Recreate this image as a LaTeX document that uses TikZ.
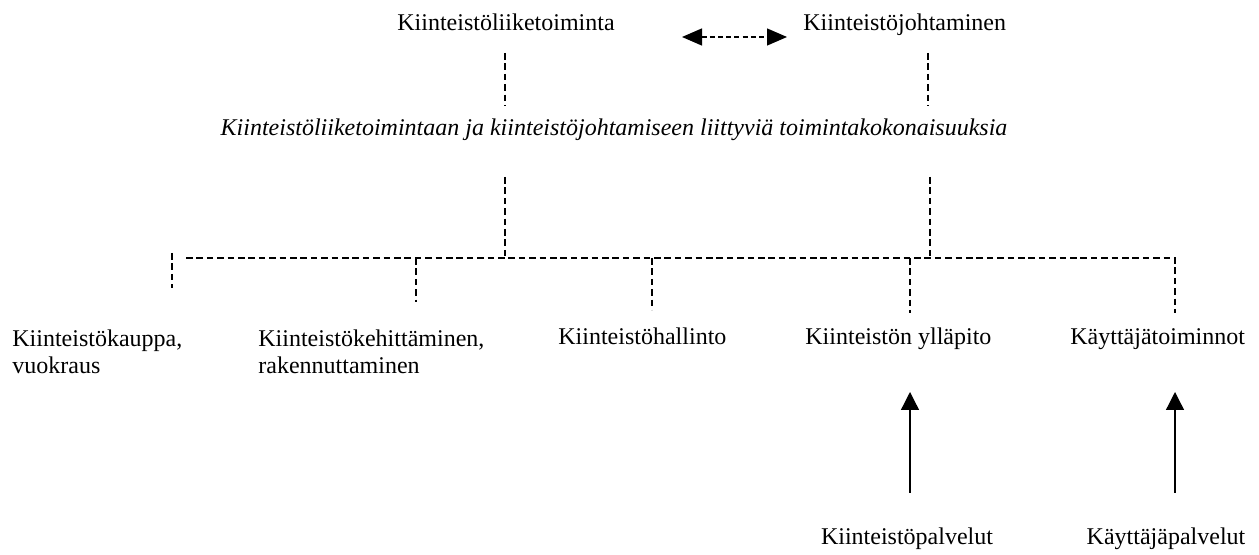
\documentclass[tikz,border=0pt]{standalone}
\usepackage{fontspec}
\setmainfont{Liberation Serif}
\usetikzlibrary{arrows.meta}
\begin{document}
\begin{tikzpicture}[x=0.5pt,y=-0.5pt,
  lbl/.style={inner sep=0pt, font=\fontsize{12}{13.5}\selectfont},
  dline/.style={line width=0.65pt, dash pattern=on 3.3pt off 1.9pt},
  biarrow/.style={line width=0.65pt, dash pattern=on 2.5pt off 1.6pt,
     {Triangle[length=10pt,width=8.5pt]}-{Triangle[length=10pt,width=8.5pt]}},
  uparrow/.style={line width=0.65pt, -{Triangle[length=9pt,width=9pt]}}]
\useasboundingbox (0,0) rectangle (1259,555);
\fill[white] (0,0) rectangle (1259,555);
% labels
\node[lbl, anchor=base] (liike) at (506,31) {Kiinteistöliiketoiminta};
\node[lbl, anchor=base west] (johto) at (803,31) {Kiinteistöjohtaminen};
\node[lbl, anchor=base, font=\fontsize{12}{13.5}\selectfont\itshape] (koko) at (614,136)
  {Kiinteistöliiketoimintaan ja kiinteistöjohtamiseen liittyviä toimintakokonaisuuksia};
\node[lbl, anchor=north west, align=left] (kauppa) at (12,329) {Kiinteistökauppa,\\vuokraus};
\node[lbl, anchor=north west, align=left] (kehit) at (258,329) {Kiinteistökehittäminen,\\rakennuttaminen};
\node[lbl, anchor=base west] (hallinto) at (558,345) {Kiinteistöhallinto};
\node[lbl, anchor=base west] (yllapito) at (805,345) {Kiinteistön ylläpito};
\node[lbl, anchor=base west] (kayttaja) at (1070,345) {Käyttäjätoiminnot};
\node[lbl, anchor=base] (kpalv) at (907,545) {Kiinteistöpalvelut};
\node[lbl, anchor=base] (kaypalv) at (1166,545) {Käyttäjäpalvelut};
% coordinates
\coordinate (aL) at (682,37);
\coordinate (aR) at (787,37);
\coordinate (d1t) at (505,53);  \coordinate (d1b) at (505,106);
\coordinate (d2t) at (928,53);  \coordinate (d2b) at (928,106);
\coordinate (d3t) at (505,177); \coordinate (d3b) at (505,258);
\coordinate (d4t) at (930,177); \coordinate (d4b) at (930,258);
\coordinate (busL) at (186,258); \coordinate (busR) at (1175,258);
\coordinate (v1t) at (172,253); \coordinate (v1b) at (172,288);
\coordinate (v2t) at (416,258); \coordinate (v2b) at (416,302);
\coordinate (v3t) at (652,258); \coordinate (v3b) at (652,310);
\coordinate (v4t) at (910,258); \coordinate (v4b) at (910,313);
\coordinate (v5b) at (1175,313);
\coordinate (u1b) at (910,493); \coordinate (u1t) at (910,392);
\coordinate (u2b) at (1175,493); \coordinate (u2t) at (1175,392);
% connectors
\draw[biarrow] (aL) -- (aR);
\draw[dline] (d1t) -- (d1b);
\draw[dline] (d2t) -- (d2b);
\draw[dline] (d3t) -- (d3b);
\draw[dline] (d4t) -- (d4b);
\draw[dline] (busL) -- (busR) -- (v5b);
\draw[dline] (v1t) -- (v1b);
\draw[dline] (v2t) -- (v2b);
\draw[dline] (v3t) -- (v3b);
\draw[dline] (v4t) -- (v4b);
\draw[uparrow] (u1b) -- (u1t);
\draw[uparrow] (u2b) -- (u2t);
\end{tikzpicture}
\end{document}
